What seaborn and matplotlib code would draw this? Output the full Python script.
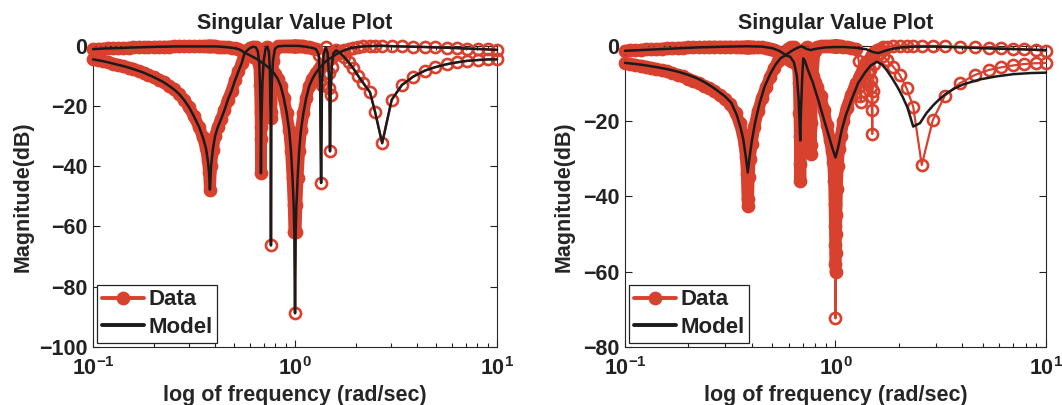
import matplotlib
matplotlib.use("Agg")
import pandas as pd
import matplotlib.pyplot as plt
import seaborn as sns

# --- left panel: data and model share one frequency grid (rad/sec) ---
freq_left = [0.100, 0.106, 0.112, 0.119, 0.126, 0.133, 0.141, 0.150, 0.158, 0.168,
             0.178, 0.188, 0.200, 0.211, 0.224, 0.237, 0.251, 0.266, 0.282, 0.299,
             0.316, 0.335, 0.350, 0.362, 0.370, 0.375, 0.379, 0.384, 0.392, 0.402,
             0.415, 0.430, 0.447, 0.465, 0.485, 0.505, 0.525, 0.545, 0.562, 0.580,
             0.600, 0.620, 0.640, 0.655, 0.665, 0.671, 0.675, 0.677, 0.678, 0.680,
             0.683, 0.690, 0.700, 0.715, 0.730, 0.742, 0.750, 0.755, 0.758, 0.760,
             0.763, 0.768, 0.778, 0.795, 0.820, 0.850, 0.880, 0.910, 0.935, 0.955,
             0.972, 0.985, 0.993, 1.000, 1.007, 1.016, 1.030, 1.048, 1.070, 1.100,
             1.135, 1.175, 1.220, 1.270, 1.310, 1.330, 1.346, 1.360, 1.385, 1.420,
             1.450, 1.470, 1.480, 1.490, 1.500, 1.520, 1.550, 1.600, 1.670, 1.750,
             1.840, 1.940, 2.050, 2.180, 2.350, 2.490, 2.700, 3.010, 3.380, 3.850,
             4.400, 4.930, 5.640, 6.310, 7.080, 8.070, 9.050, 10.00]

data_left_upper = [-1.2, -1.1, -1.0, -0.95, -0.9, -0.85, -0.8, -0.7, -0.65, -0.6,
                   -0.55, -0.5, -0.45, -0.4, -0.4, -0.35, -0.3, -0.3, -0.3, -0.3,
                   -0.3, -0.3, -0.3, -0.3, -0.3, -0.3, -0.3, -0.3, -0.3, -0.3,
                   -0.35, -0.4, -0.5, -0.6, -0.75, -0.9, -1.2, -1.7, -2.4, -2.8,
                   -3.3, -3.8, -4.3, -4.7, -5.0, -5.2, -5.3, -5.4, -5.4, -5.5,
                   -5.6, -5.8, -6.1, -6.5, -7.0, -7.4, -7.7, -7.9, -8.0, -8.1,
                   -8.2, -8.4, -8.8, -9.6, -11.0, -13.5, -17.5, -22.5, -28.0, -35.0,
                   -44.0, -53.0, -62.0, -88.8, -62.0, -53.0, -44.0, -35.0, -28.0, -22.5,
                   -17.5, -13.5, -11.0, -9.0, -7.8, -7.3, -6.9, -6.6, -6.0, -5.3,
                   -4.8, -4.5, -4.4, -4.3, -4.2, -3.9, -3.5, -2.9, -2.2, -1.6,
                   -1.1, -0.7, -0.45, -0.3, -0.2, -0.15, -0.1, -0.2, -0.3, -0.4,
                   -0.5, -0.6, -0.75, -0.85, -1.0, -1.15, -1.3, -1.45]

data_left_lower = [-4.6, -4.9, -5.2, -5.6, -6.0, -6.4, -6.8, -7.3, -7.8, -8.4,
                   -9.0, -9.7, -10.5, -11.3, -12.2, -13.3, -14.5, -16.0, -18.0, -20.5,
                   -23.5, -27.0, -30.5, -34.0, -38.0, -42.0, -47.8, -40.0, -34.5, -30.0,
                   -27.0, -24.5, -21.5, -18.0, -15.0, -11.5, -8.5, -5.8, -2.6, -1.6,
                   -0.8, -0.4, -0.6, -2.0, -6.0, -13.0, -22.0, -27.0, -42.4, -31.0,
                   -23.0, -12.0, -5.0, -1.0, -0.4, -2.0, -7.0, -19.0, -24.0, -66.3,
                   -22.0, -12.0, -5.0, -1.2, -0.3, -0.2, -0.1, -0.1, -0.1, -0.1,
                   -0.1, -0.1, -0.1, -0.1, -0.1, -0.1, -0.1, -0.15, -0.2, -0.3,
                   -0.4, -0.6, -0.8, -1.2, -3.0, -11.4, -45.6, -13.0, -3.0, -0.6,
                   -2.5, -9.0, -14.2, -35.1, -16.4, -7.0, -2.5, -1.6, -2.4, -3.8,
                   -5.5, -7.5, -10.0, -12.5, -15.5, -22.0, -32.4, -18.0, -13.1, -10.3,
                   -8.3, -7.2, -6.2, -5.6, -5.1, -4.8, -4.6, -4.6]

# the fitted model sits on the measured points in the left panel
model_left_upper = [-1.2, -1.1, -1.0, -0.95, -0.9, -0.85, -0.8, -0.7, -0.65, -0.6,
                    -0.55, -0.5, -0.45, -0.4, -0.4, -0.35, -0.3, -0.3, -0.3, -0.3,
                    -0.3, -0.3, -0.3, -0.3, -0.3, -0.3, -0.3, -0.3, -0.3, -0.3,
                    -0.35, -0.4, -0.5, -0.6, -0.75, -0.9, -1.2, -1.7, -2.4, -2.8,
                    -3.3, -3.8, -4.3, -4.7, -5.0, -5.2, -5.3, -5.4, -5.4, -5.5,
                    -5.6, -5.8, -6.1, -6.5, -7.0, -7.4, -7.7, -7.9, -8.0, -8.1,
                    -8.2, -8.4, -8.8, -9.6, -11.0, -13.5, -17.5, -22.5, -28.0, -35.0,
                    -44.0, -53.0, -62.0, -88.8, -62.0, -53.0, -44.0, -35.0, -28.0, -22.5,
                    -17.5, -13.5, -11.0, -9.0, -7.8, -7.3, -6.9, -6.6, -6.0, -5.3,
                    -4.8, -4.5, -4.4, -4.3, -4.2, -3.9, -3.5, -2.9, -2.2, -1.6,
                    -1.1, -0.7, -0.45, -0.3, -0.2, -0.15, -0.1, -0.2, -0.3, -0.4,
                    -0.5, -0.6, -0.75, -0.85, -1.0, -1.15, -1.3, -1.45]

model_left_lower = [-4.6, -4.9, -5.2, -5.6, -6.0, -6.4, -6.8, -7.3, -7.8, -8.4,
                    -9.0, -9.7, -10.5, -11.3, -12.2, -13.3, -14.5, -16.0, -18.0, -20.5,
                    -23.5, -27.0, -30.5, -34.0, -38.0, -42.0, -47.8, -40.0, -34.5, -30.0,
                    -27.0, -24.5, -21.5, -18.0, -15.0, -11.5, -8.5, -5.8, -2.6, -1.6,
                    -0.8, -0.4, -0.6, -2.0, -6.0, -13.0, -22.0, -27.0, -42.4, -31.0,
                    -23.0, -12.0, -5.0, -1.0, -0.4, -2.0, -7.0, -19.0, -24.0, -66.3,
                    -22.0, -12.0, -5.0, -1.2, -0.3, -0.2, -0.1, -0.1, -0.1, -0.1,
                    -0.1, -0.1, -0.1, -0.1, -0.1, -0.1, -0.1, -0.15, -0.2, -0.3,
                    -0.4, -0.6, -0.8, -1.2, -3.0, -11.4, -45.6, -13.0, -3.0, -0.6,
                    -2.5, -9.0, -14.2, -35.1, -16.4, -7.0, -2.5, -1.6, -2.4, -3.8,
                    -5.5, -7.5, -10.0, -12.5, -15.5, -22.0, -32.4, -18.0, -13.1, -10.3,
                    -8.3, -7.2, -6.2, -5.6, -5.1, -4.8, -4.6, -4.6]

# --- right panel: measured data ---
freq_right = [0.100, 0.106, 0.112, 0.119, 0.126, 0.133, 0.141, 0.150, 0.158, 0.168,
              0.178, 0.188, 0.200, 0.211, 0.224, 0.237, 0.251, 0.266, 0.282, 0.299,
              0.316, 0.335, 0.350, 0.362, 0.370, 0.375, 0.379, 0.382, 0.384, 0.387,
              0.392, 0.400, 0.412, 0.428, 0.447, 0.468, 0.490, 0.512, 0.535, 0.555,
              0.575, 0.595, 0.615, 0.635, 0.650, 0.662, 0.670, 0.674, 0.677, 0.679,
              0.681, 0.684, 0.690, 0.700, 0.715, 0.730, 0.742, 0.750, 0.755, 0.758,
              0.761, 0.764, 0.768, 0.778, 0.795, 0.820, 0.850, 0.880, 0.910, 0.940,
              0.960, 0.975, 0.985, 0.990, 0.994, 0.997, 0.999, 1.000, 1.001, 1.003,
              1.006, 1.010, 1.016, 1.025, 1.040, 1.060, 1.090, 1.130, 1.190, 1.250,
              1.290, 1.310, 1.320, 1.335, 1.355, 1.370, 1.400, 1.430, 1.460, 1.470,
              1.478, 1.485, 1.490, 1.495, 1.500, 1.530, 1.570, 1.620, 1.680, 1.750,
              1.880, 2.020, 2.180, 2.340, 2.570, 2.900, 3.310, 3.900, 4.600, 5.350,
              6.100, 6.950, 7.900, 8.950, 10.00]

data_right_upper = [-1.4, -1.3, -1.2, -1.1, -1.0, -0.95, -0.9, -0.8, -0.75, -0.7,
                    -0.6, -0.55, -0.5, -0.45, -0.4, -0.35, -0.3, -0.3, -0.3, -0.3,
                    -0.3, -0.3, -0.3, -0.3, -0.3, -0.3, -0.3, -0.3, -0.3, -0.3,
                    -0.3, -0.3, -0.35, -0.4, -0.5, -0.6, -0.8, -1.1, -1.6, -2.3,
                    -3.0, -3.5, -4.0, -4.4, -4.8, -5.1, -5.3, -5.4, -5.5, -5.5,
                    -5.6, -5.7, -5.9, -6.2, -6.6, -7.1, -7.5, -7.8, -8.0, -8.1,
                    -8.2, -8.3, -8.5, -8.9, -9.7, -11.0, -13.5, -17.0, -21.0, -25.0,
                    -28.0, -31.0, -36.0, -42.0, -48.0, -53.0, -58.0, -72.4, -60.0, -55.0,
                    -50.0, -45.0, -38.0, -32.0, -27.5, -24.0, -20.0, -16.5, -13.0, -10.0,
                    -8.6, -8.0, -7.6, -7.0, -6.3, -5.8, -5.0, -4.2, -3.5, -3.2,
                    -3.0, -2.8, -2.7, -2.6, -2.5, -1.8, -1.2, -0.8, -0.5, -0.3,
                    -0.2, -0.1, -0.1, -0.1, -0.1, -0.1, -0.2, -0.3, -0.4, -0.55,
                    -0.7, -0.85, -1.0, -1.2, -1.4]

data_right_lower = [-4.7, -4.9, -5.1, -5.4, -5.6, -5.9, -6.2, -6.5, -6.8, -7.3,
                    -7.8, -8.2, -8.8, -9.4, -10.0, -10.7, -11.4, -12.2, -13.2, -14.2,
                    -15.6, -17.8, -20.5, -23.5, -26.5, -29.5, -34.0, -40.7, -42.5, -35.0,
                    -30.0, -26.0, -21.5, -17.5, -14.0, -11.0, -8.3, -6.0, -4.0, -2.6,
                    -1.6, -0.8, -0.4, -0.5, -1.5, -4.0, -10.0, -18.0, -24.0, -31.5,
                    -36.0, -27.0, -15.0, -5.0, -1.0, -0.4, -2.5, -8.0, -19.4, -22.0,
                    -28.8, -26.5, -20.5, -8.0, -1.5, -0.4, -0.2, -0.1, -0.1, -0.1,
                    -0.1, -0.1, -0.1, -0.1, -0.1, -0.1, -0.1, -0.1, -0.1, -0.1,
                    -0.1, -0.1, -0.1, -0.1, -0.15, -0.2, -0.3, -0.4, -0.6, -1.0,
                    -4.0, -13.5, -14.9, -8.0, -9.4, -12.1, -4.5, -7.2, -6.5, -9.2,
                    -10.9, -13.6, -17.1, -23.5, -12.0, -5.0, -2.5, -2.0, -2.8, -3.8,
                    -5.6, -7.8, -11.4, -16.2, -31.7, -19.8, -13.3, -10.0, -7.8, -6.5,
                    -5.8, -5.3, -4.9, -4.7, -4.6]

# --- right panel: model ---
freq_model_right_upper = [0.10, 0.13, 0.17, 0.22, 0.30, 0.38, 0.45, 0.50, 0.54, 0.58,
                          0.62, 0.66, 0.69, 0.72, 0.76, 0.82, 0.90, 1.00, 1.10, 1.25,
                          1.40, 1.52, 1.60, 1.70, 1.85, 2.05, 2.40, 3.00, 4.00, 5.50,
                          7.50, 10.0]
model_right_upper = [-1.4, -1.1, -0.8, -0.5, -0.3, -0.2, -0.3, -0.7, -1.4, -2.5,
                     -1.4, -0.6, -0.2, -0.8, -1.2, -0.8, -0.5, -0.4, -0.4, -0.6,
                     -1.0, -1.8, -2.0, -1.5, -0.9, -0.5, -0.3, -0.3, -0.5, -0.8,
                     -1.0, -1.2]

freq_model_right_lower = [0.10, 0.12, 0.14, 0.16, 0.18, 0.20, 0.22, 0.24, 0.26, 0.28,
                          0.30, 0.32, 0.34, 0.355, 0.365, 0.375, 0.383, 0.39, 0.40, 0.415,
                          0.435, 0.46, 0.49, 0.52, 0.55, 0.58, 0.61, 0.635, 0.655, 0.668,
                          0.675, 0.680, 0.686, 0.695, 0.703, 0.715, 0.74, 0.78, 0.834, 0.88,
                          0.93, 0.97, 1.00, 1.03, 1.07, 1.12, 1.19, 1.28, 1.38, 1.47,
                          1.57, 1.66, 1.75, 1.85, 1.97, 2.08, 2.20, 2.34, 2.52, 2.70,
                          2.92, 3.15, 3.37, 3.70, 4.05, 4.85, 5.80, 7.00, 8.50, 10.0]
model_right_lower = [-4.6, -5.1, -5.7, -6.3, -7.0, -7.8, -8.7, -9.8, -11.0, -12.3,
                     -13.6, -15.2, -18.5, -22.0, -25.0, -29.5, -33.7, -30.0, -25.5, -20.5,
                     -15.5, -11.0, -7.5, -5.0, -3.3, -2.6, -3.0, -4.5, -8.0, -14.0,
                     -20.0, -25.2, -17.0, -8.5, -3.4, -4.0, -6.5, -9.8, -15.0, -19.5,
                     -24.0, -27.5, -29.7, -27.0, -22.5, -18.5, -14.5, -10.0, -7.2, -5.3,
                     -4.3, -5.0, -6.5, -8.5, -11.0, -13.5, -16.5, -21.5, -20.6, -18.0,
                     -15.8, -14.0, -12.7, -11.3, -10.3, -9.0, -8.2, -7.6, -7.3, -7.2]

RED = "#d9412f"
BLACK = "#1b1b1b"

sns.set_style("ticks")
plt.rcParams["font.family"] = ["Liberation Sans", "DejaVu Sans"]
plt.rcParams["font.weight"] = "bold"
plt.rcParams["axes.labelweight"] = "bold"
plt.rcParams["axes.titleweight"] = "bold"
plt.rcParams["font.size"] = 15.5
plt.rcParams["axes.titlesize"] = 15.5
plt.rcParams["axes.labelsize"] = 15.5
plt.rcParams["legend.fontsize"] = 16
plt.rcParams["text.color"] = "#222222"
plt.rcParams["xtick.color"] = "#222222"
plt.rcParams["ytick.color"] = "#222222"


def draw_band(ax, freq, db, fmax):
    # dense measurements overlap into a solid red band
    df = pd.DataFrame({"f": freq, "db": db})
    keep = (df["f"] <= fmax) & (df["db"] >= -62)
    df["seg"] = (~keep).cumsum()
    df = df[keep]
    sns.lineplot(data=df, x="f", y="db", units="seg", estimator=None, sort=False,
                 color=RED, lw=8.5, legend=False, ax=ax, zorder=2)


def draw_panel(ax, freq, d_hi, d_lo, mf_hi, m_hi, mf_lo, m_lo, ymin, fmax):
    for vals in (d_hi, d_lo):
        draw_band(ax, freq, vals, fmax)
    data_lines = []
    for vals in (d_hi, d_lo):
        sns.lineplot(x=freq, y=vals, ax=ax, sort=False, estimator=None, color=RED,
                     lw=1.6, marker="o", markersize=8, markerfacecolor="none",
                     markeredgecolor=RED, markeredgewidth=1.9, zorder=3)
        data_lines.append(ax.lines[-1])
    model_lines = []
    for mf, vals in ((mf_hi, m_hi), (mf_lo, m_lo)):
        sns.lineplot(x=mf, y=vals, ax=ax, sort=False, estimator=None, color=BLACK,
                     lw=1.8, zorder=4)
        model_lines.append(ax.lines[-1])
    for ln in ax.lines:
        ln.set_clip_on(False)

    ax.set_xscale("log")
    ax.set_xlim(0.1, 10)
    ax.set_ylim(ymin, 0)
    ax.set_yticks(list(range(ymin, 1, 20)))
    ax.set_title("Singular Value Plot", pad=12)
    ax.set_xlabel("log of frequency (rad/sec)")
    ax.set_ylabel("Magnitude(dB)")
    ax.tick_params(which="both", direction="in", top=True, right=True, width=0.8)
    ax.tick_params(which="major", length=5)
    ax.tick_params(which="minor", length=3)
    ax.tick_params(axis="x", pad=7)
    ax.tick_params(axis="y", pad=4)
    for sp in ax.spines.values():
        sp.set_visible(True)
        sp.set_color("#262626")
        sp.set_linewidth(0.8)

    leg = ax.legend(handles=[data_lines[0], model_lines[0]], labels=["Data", "Model"],
                    loc="lower left", frameon=True, fancybox=False, edgecolor="#222222",
                    framealpha=1, handlelength=1.9, handletextpad=0.2,
                    borderpad=0.2, labelspacing=0.3, borderaxespad=0.2)
    leg.get_frame().set_linewidth(0.9)
    leg.legend_handles[0].set_markerfacecolor(RED)
    leg.legend_handles[0].set_linewidth(2.8)
    leg.legend_handles[1].set_linewidth(2.8)


fig = plt.figure(figsize=(10.62, 4.05), dpi=100)
ax_l = fig.add_axes([0.0876, 0.1432, 0.3804, 0.7444])
ax_r = fig.add_axes([0.5885, 0.1432, 0.3964, 0.7444])

draw_panel(ax_l, freq_left, data_left_upper, data_left_lower,
           freq_left, model_left_upper, freq_left, model_left_lower, -100, 1.3)
draw_panel(ax_r, freq_right, data_right_upper, data_right_lower,
           freq_model_right_upper, model_right_upper,
           freq_model_right_lower, model_right_lower, -80, 1.26)

ax_l.yaxis.set_label_coords(-0.146, 0.5)
ax_r.yaxis.set_label_coords(-0.119, 0.5)
ax_l.xaxis.set_label_coords(0.5, -0.125)
ax_r.xaxis.set_label_coords(0.5, -0.125)

fig.savefig("out.png", dpi=100)
